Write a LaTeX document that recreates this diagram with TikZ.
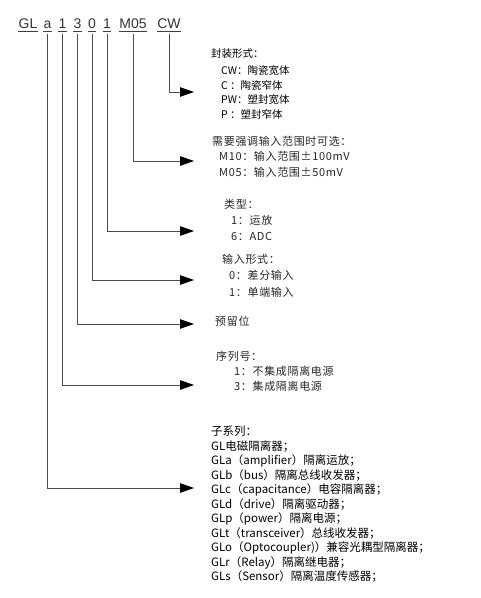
\documentclass[tikz,border=0pt]{standalone}
\usepackage{fontspec}
\setmainfont{Liberation Sans}
\newfontfamily\cjk{Noto Sans CJK SC}
\newfontfamily\cjkw[LetterSpace=6]{Noto Sans CJK SC}
\usetikzlibrary{arrows.meta}

\tikzset{
  code/.style={font=\fontsize{14}{16}\selectfont, text=black!80, inner sep=0pt, anchor=base},
  uline/.style={draw=black!75, line width=0.7pt},
  lead/.style={draw=black!70, line width=0.8pt, shorten <=6pt,
    -{Triangle[length=14pt,width=9.5pt,color=black]}},
  note/.style={font=\cjkw\fontsize{11}{15.5}\selectfont, text=black!85, align=left,
    inner sep=0pt, anchor=north west},
}

\begin{document}
\begin{tikzpicture}[x=1pt,y=-1pt]
\useasboundingbox (0,0) rectangle (481,598);

% product code
\node[code] (gl) at (28,28) {GL};
\node[code] (sub) at (47.5,28) {a};
\node[code] (ser) at (62.5,28) {1};
\node[code] (resv) at (77.5,28) {3};
\node[code] (inp) at (92,28) {0};
\node[code] (typ) at (107,28) {1};
\node[code] (rng) at (133,28) {M05};
\node[code] (pkg) at (169,28) {CW};
\foreach \n in {gl,sub,ser,resv,inp,typ,rng,pkg}
  \draw[uline] ([yshift=-3pt]\n.base west) -- ([yshift=-3pt]\n.base east);

% arrow ends
\coordinate (pkgin) at (194,92);
\coordinate (rngin) at (194,161);
\coordinate (typin) at (194,231);
\coordinate (inpin) at (194,280);
\coordinate (resvin) at (194,324);
\coordinate (serin) at (194,385);
\coordinate (subin) at (194,488);

% notes
\node[note, font=\cjk\fontsize{10.5}{14.5}\selectfont, text=black] (pkgnote) at (211,48)
  {封装形式：\\[3pt]
   \hspace{10pt}CW：陶瓷宽体\\
   \hspace{10pt}C ：陶瓷窄体\\
   \hspace{10pt}PW：塑封宽体\\
   \hspace{10pt}P ：塑封窄体};
\node[note] (rngnote) at (212,136)
  {需要强调输入范围时可选：\\
   \hspace{7pt}M10：输入范围±100mV\\
   \hspace{7pt}M05：输入范围±50mV};
\node[note, font=\cjkw\fontsize{11}{16}\selectfont] (typnote) at (224,199)
  {类型：\\
   \hspace{7pt}1：运放\\
   \hspace{7pt}6：ADC};
\node[note, font=\cjkw\fontsize{11}{16.5}\selectfont] (inpnote) at (222,254)
  {输入形式：\\
   \hspace{7pt}0：差分输入\\
   \hspace{7pt}1：单端输入};
\node[note] (resvnote) at (215,316) {预留位};
\node[note, font=\cjkw\fontsize{11}{15}\selectfont] (sernote) at (216,351)
  {序列号：\\
   \hspace{18pt}1：不集成隔离电源\\
   \hspace{18pt}3：集成隔离电源};
\node[note, font=\cjk\fontsize{11.5}{14.5}\selectfont, text=black] (subnote) at (211,426)
  {子系列：\\
   GL电磁隔离器；\\
   GLa（amplifier）隔离运放；\\
   GLb（bus）隔离总线收发器；\\
   GLc（capacitance）电容隔离器；\\
   GLd（drive）隔离驱动器；\\
   GLp（power）隔离电源；\\
   GLt（transceiver）总线收发器；\\
   GLo（Optocoupler)）兼容光耦型隔离器；\\
   GLr（Relay）隔离继电器；\\
   GLs（Sensor）隔离温度传感器；};

% leads
\draw[lead] (pkg.south) |- (pkgin);
\draw[lead] (rng.south) |- (rngin);
\draw[lead] (typ.south) |- (typin);
\draw[lead] (inp.south) |- (inpin);
\draw[lead] (resv.south) |- (resvin);
\draw[lead] (ser.south) |- (serin);
\draw[lead] (sub.south) |- (subin);
\end{tikzpicture}
\end{document}
